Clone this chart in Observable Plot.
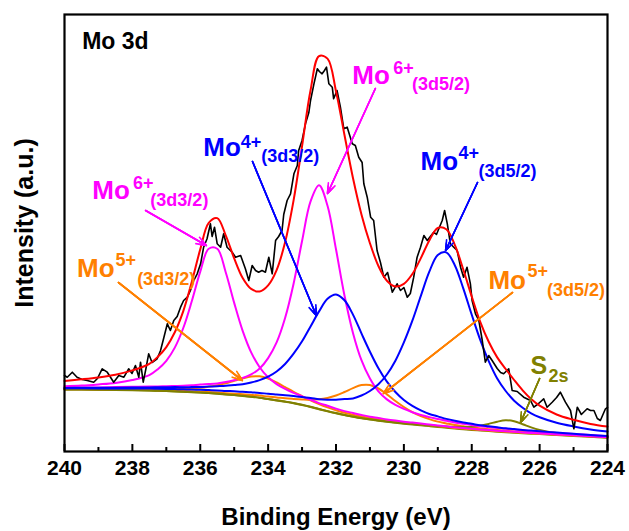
<!DOCTYPE html>
<html><head><meta charset="utf-8">
<script src="https://cdn.jsdelivr.net/npm/d3@7"></script>
<script src="https://cdn.jsdelivr.net/npm/@observablehq/plot@0.6"></script>
<style>
html,body{margin:0;padding:0;background:#fff;}
#chart svg{display:block;}
</style>
</head><body><div id="chart"></div>
<script>
// ---- Fit grid (binding energy, eV) ----
const energy = [240, 239.5, 239, 238.5, 238, 237.5, 237.25, 237, 236.75, 236.5, 236.25, 236, 235.75, 235.5, 235.25, 235, 234.75, 234.5, 234.25, 234, 233.75, 233.5, 233.25, 233, 232.75, 232.5, 232.25, 232, 231.75, 231.5, 231.25, 231, 230.75, 230.5, 230.25, 230, 229.75, 229.5, 229.25, 229, 228.75, 228.5, 228.25, 228, 227.75, 227.5, 227.25, 227, 226.75, 226.5, 226.25, 226, 225.5, 225, 224.5, 224];

// Shirley background (a.u.)
const background = [62, 61.9, 61.7, 61.5, 61.3, 60.9, 60.7, 60.4, 60.1, 59.7, 59.3, 58.9, 58.4, 57.8, 57.1, 56.4, 55.6, 54.7, 53.7, 52.4, 51.1, 49.7, 48.2, 46.5, 44.5, 42.3, 40.2, 38.2, 36.4, 34.8, 33.3, 32, 30.8, 29.7, 28.7, 27.8, 27, 26.2, 25.4, 24.6, 23.8, 23, 22.3, 21.6, 21, 20.4, 19.8, 19.3, 18.8, 18.3, 17.8, 17.4, 16.5, 15.6, 14.7, 13.8];

// Fitted components, height above background (a.u.)
const mo6_3d32 = [3.3, 4.0, 5.4, 7.1, 10.2, 15.5, 21.6, 30.3, 43.8, 63.8, 90.9, 121, 144.3, 144.9, 122.2, 92.2, 65, 44.4, 30.6, 21.8, 16.3, 12.9, 10.4, 8.6, 7.3, 6.1, 5.5, 4.7, 4.0, 3.7, 3.3, 2.8, 2.7, 2.4, 2.2, 2.0, 1.9, 1.7, 1.6, 1.5, 1.35, 1.2, 1.15, 1.1, 1.05, 1.0, 0.95, 0.9, 0.85, 0.8, 0.75, 0.7, 0.6, 0.6, 0.5, 0.5];
const mo6_3d52 = [1.7, 2.1, 2.4, 2.9, 3.4, 4.0, 4.3, 4.9, 5.4, 6.0, 6.9, 8.0, 9.0, 10.3, 12.3, 14.8, 17.9, 22.4, 29.3, 41, 58, 83.8, 119.6, 164, 205.6, 224, 205.6, 164, 119.6, 83.8, 58, 41, 29.3, 22.4, 17.9, 14.8, 12.3, 10.3, 9.0, 8.0, 6.9, 6.0, 5.4, 4.9, 4.3, 4.0, 3.7, 3.4, 3.1, 2.9, 2.7, 2.4, 2.1, 1.9, 1.7, 1.5];
const mo4_3d32 = [1.5, 1.8, 2.0, 2.3, 2.7, 3.2, 3.5, 3.8, 4.3, 4.6, 5.1, 5.6, 6.5, 7.5, 8.6, 10.1, 11.7, 14.3, 17.7, 22.4, 28.9, 37.8, 49.6, 63.7, 80.6, 97.8, 112.5, 118.9, 114.8, 102.1, 84.8, 67.8, 52.5, 40.1, 30.8, 23.7, 18.6, 14.9, 12.1, 10.5, 8.8, 7.7, 6.8, 6.1, 5.2, 4.8, 4.4, 3.9, 3.6, 3.2, 3.1, 2.9, 2.4, 2.1, 1.8, 1.6];
const mo4_3d52 = [1.2, 1.3, 1.4, 1.6, 1.8, 2.0, 2.1, 2.2, 2.3, 2.5, 2.6, 2.8, 3.0, 3.3, 3.5, 3.8, 4.1, 4.5, 4.9, 5.3, 5.9, 6.6, 7.2, 7.9, 9.0, 10.0, 11.6, 13.5, 16.0, 18.3, 22.7, 28.5, 36.4, 47.3, 62.1, 81.3, 103.8, 129.5, 154.4, 172, 175.3, 163.3, 140.8, 115.1, 90.6, 70, 53.2, 41.2, 32, 25.5, 20.4, 16.9, 12.3, 9.5, 7.4, 6.2];
const mo5_3d32 = [0.5, 0.6, 0.7, 0.9, 1.1, 1.4, 1.7, 2.0, 2.4, 2.9, 3.7, 4.8, 6.4, 8.4, 11.1, 14.3, 17.5, 20.3, 21.5, 20.6, 18, 14.7, 11.5, 8.9, 6.7, 5.1, 3.9, 3.0, 2.4, 2.0, 1.7, 1.5, 1.3, 1.2, 1.1, 1.0, 0.95, 0.9, 0.8, 0.7, 0.65, 0.6, 0.58, 0.55, 0.52, 0.5, 0.48, 0.45, 0.43, 0.4, 0.4, 0.4, 0.35, 0.3, 0.3, 0.3];
const mo5_3d52 = [0.3, 0.35, 0.4, 0.4, 0.5, 0.6, 0.65, 0.7, 0.75, 0.8, 0.85, 0.9, 1.0, 1.1, 1.25, 1.4, 1.6, 1.9, 2.2, 2.5, 3.0, 3.5, 4.4, 5.6, 7.3, 9.9, 13.4, 17.8, 23.1, 28.6, 33.1, 34.5, 32.2, 27.4, 21.8, 16.7, 12.4, 9.3, 7.0, 5.3, 4.3, 3.4, 2.9, 2.4, 2.1, 1.8, 1.6, 1.4, 1.3, 1.1, 1.0, 0.9, 0.8, 0.7, 0.6, 0.5];
const s2s = [0.1, 0.1, 0.1, 0.1, 0.1, 0.1, 0.1, 0.1, 0.1, 0.1, 0.1, 0.1, 0.1, 0.1, 0.1, 0.1, 0.1, 0.1, 0.1, 0.1, 0.2, 0.2, 0.2, 0.2, 0.2, 0.2, 0.2, 0.2, 0.2, 0.2, 0.2, 0.2, 0.3, 0.3, 0.35, 0.4, 0.5, 0.6, 0.75, 0.9, 1.1, 1.5, 2.1, 3.2, 4.8, 7.2, 10, 11.9, 11.4, 9.0, 6.3, 4.2, 1.9, 1.0, 0.6, 0.5];

// Envelope (cumulative fit, a.u.)
const envelope = [70.6, 72.2, 74.1, 76.8, 81.1, 87.7, 94.7, 104.4, 119.2, 140.4, 169.5, 202.1, 228.7, 233.4, 216.2, 193.1, 173.5, 162.6, 160.0, 166.1, 181.4, 209.2, 251.1, 305.4, 361.2, 395.4, 392.9, 360.3, 316.5, 273.5, 237.1, 208.3, 185.5, 170.8, 165.0, 167.7, 177.5, 193.4, 211.1, 223.5, 222.2, 206.7, 182.0, 155.0, 129.6, 109.7, 94.1, 82.5, 71.5, 61.2, 52.5, 45.8, 37.0, 31.7, 27.6, 24.9];

// Measured spectrum
const rawEnergy = [240.00, 239.92, 239.77, 239.63, 239.48, 239.33, 239.14, 239.03, 238.89, 238.74, 238.64, 238.55, 238.40, 238.25, 238.11, 238.01, 237.91, 237.81, 237.76, 237.68, 237.60, 237.52, 237.42, 237.27, 237.17, 237.07, 236.97, 236.88, 236.78, 236.68, 236.58, 236.49, 236.38, 236.29, 236.19, 236.09, 235.99, 235.90, 235.80, 235.70, 235.65, 235.58, 235.50, 235.40, 235.31, 235.21, 235.06, 234.96, 234.81, 234.67, 234.57, 234.47, 234.37, 234.28, 234.18, 234.08, 233.98, 233.88, 233.78, 233.69, 233.59, 233.54, 233.44, 233.34, 233.24, 233.14, 233.10, 233.00, 232.90, 232.80, 232.75, 232.65, 232.55, 232.49, 232.41, 232.34, 232.28, 232.21, 232.11, 232.07, 231.97, 231.87, 231.77, 231.67, 231.52, 231.43, 231.33, 231.23, 231.18, 231.08, 230.98, 230.89, 230.79, 230.69, 230.59, 230.48, 230.34, 230.20, 230.10, 230.00, 229.90, 229.81, 229.71, 229.61, 229.51, 229.41, 229.31, 229.22, 229.12, 229.04, 228.97, 228.87, 228.80, 228.72, 228.63, 228.53, 228.43, 228.33, 228.24, 228.14, 228.04, 227.99, 227.89, 227.79, 227.69, 227.60, 227.50, 227.40, 227.25, 227.15, 227.06, 226.91, 226.81, 226.66, 226.47, 226.27, 226.17, 226.03, 225.88, 225.78, 225.63, 225.50, 225.39, 225.24, 225.09, 224.99, 224.89, 224.77, 224.60, 224.50, 224.40, 224.30, 224.21, 224.06, 224.00];
const rawIntensity = [76, 74.3, 79.3, 74.3, 72, 71, 69.3, 73, 82.7, 79.3, 74, 69.3, 76, 74.3, 82.7, 78, 86, 74.3, 89.3, 69.3, 83, 97.7, 89, 92.7, 101, 114.3, 127.7, 121, 131, 135, 144.3, 151, 154.3, 161, 171, 177.7, 187.7, 204.3, 212.7, 227.7, 215, 224.3, 207.7, 204.3, 217.7, 204.3, 199.3, 194.3, 196, 182.7, 171, 186, 181, 179.3, 181, 179.3, 194.3, 177.7, 211, 215, 221, 237, 251, 257.7, 277.7, 286, 301, 311, 327.7, 339, 351, 367.7, 382.7, 380, 377.7, 381, 384.3, 367.7, 364.3, 352.7, 361, 344.3, 322.7, 324.3, 307.7, 306, 294.3, 289, 267.7, 254.3, 234.3, 231, 201, 189, 174.3, 179, 159.3, 167.7, 161, 164, 154.3, 158, 174.3, 194.3, 204.3, 216, 211, 215, 219.3, 217, 222.7, 231, 241, 227.7, 207.7, 204.3, 201, 184.3, 174.3, 184.3, 167.7, 151, 137.7, 131, 111, 89.3, 96, 91, 83, 79, 77.7, 82.7, 61, 60, 54.3, 51, 44.3, 48, 52.7, 44.3, 49.3, 54, 59.3, 49.3, 41, 22.7, 44.3, 37, 42.7, 41, 41, 33, 31, 42.7, 44];

// Axis ticks
const majorTicks = [240, 238, 236, 234, 232, 230, 228, 226, 224];
const minorTicks = [239, 237, 235, 233, 231, 229, 227, 225];

// ---- Build ----
const font = "'Liberation Sans', Arial, Helvetica, sans-serif";
const MAG = "#ff00ff", BLUE = "#0000ff", ORANGE = "#ff8000", OLIVE = "#808000", RED = "#ff0000";

const bgData = energy.map((e, i) => ({e, v: background[i]}));
const comp = h => energy.map((e, i) => ({e, v: background[i] + h[i]}));
const envData = energy.map((e, i) => ({e, v: envelope[i]}));
const rawData = rawEnergy.map((e, i) => ({e, v: rawIntensity[i]}));

const fitLine = (data, color) => Plot.line(data, {x: "e", y: "v", stroke: color, strokeWidth: 2, curve: "catmull-rom"});

function label(txt, e, v, color, size) {
  return Plot.text([txt], {x: [e], y: [v], text: d => d, fill: color, fontSize: size, fontWeight: "bold",
    fontFamily: font, textAnchor: "start", lineAnchor: "bottom"});
}
function arrow(e1, v1, e2, v2, color) {
  return [10, 7, 4].map(hl => Plot.arrow([0], {x1: [e1], y1: [v1], x2: [e2], y2: [v2], stroke: color,
    strokeWidth: 1.6, headLength: hl, headAngle: 40}));
}

const chart = Plot.plot({
  width: 629, height: 531,
  marginLeft: 64, marginRight: 22, marginTop: 14, marginBottom: 80,
  style: {fontFamily: font, background: "#fff", color: "#000"},
  x: {domain: [240, 224]},
  y: {domain: [0, 437], axis: null},
  marks: [
    Plot.line(bgData, {x: "e", y: "v", stroke: OLIVE, strokeWidth: 2, curve: "catmull-rom"}),
    fitLine(comp(mo5_3d32), ORANGE),
    fitLine(comp(mo5_3d52), ORANGE),
    fitLine(comp(s2s), OLIVE),
    fitLine(comp(mo6_3d32), MAG),
    fitLine(comp(mo6_3d52), MAG),
    fitLine(comp(mo4_3d32), BLUE),
    fitLine(comp(mo4_3d52), BLUE),
    Plot.line(rawData, {x: "e", y: "v", stroke: "#000", strokeWidth: 1.6}),
    fitLine(envData, RED),
    // arrows
    ...arrow(237.61, 241, 235.82, 206, MAG),
    ...arrow(234.46, 290, 232.58, 136, BLUE),
    ...arrow(230.84, 363, 232.25, 258, MAG),
    ...arrow(227.83, 269, 228.77, 201, BLUE),
    ...arrow(238.41, 169, 234.76, 71, ORANGE),
    ...arrow(226.80, 159, 230.60, 58, ORANGE),
    ...arrow(226.00, 73, 226.56, 29, OLIVE),
    // labels
    label("Mo 3d", 239.48, 403, "#000", 23),
    label("Mo", 239.18, 253, MAG, 26), label("6+", 237.98, 263, MAG, 18), label("(3d3/2)", 237.47, 246, MAG, 18),
    label("Mo", 235.91, 295.5, BLUE, 26), label("4+", 234.81, 304, BLUE, 18), label("(3d3/2)", 234.20, 290, BLUE, 18),
    label("Mo", 231.52, 368, MAG, 26), label("6+", 230.31, 378, MAG, 18), label("(3d5/2)", 229.76, 362, MAG, 18),
    label("Mo", 229.51, 282, BLUE, 26), label("4+", 228.39, 293, BLUE, 18), label("(3d5/2)", 227.80, 275, BLUE, 18),
    label("Mo", 239.63, 175, ORANGE, 26), label("5+", 238.50, 186, ORANGE, 18), label("(3d3/2)", 237.86, 167, ORANGE, 18),
    label("Mo", 227.51, 163, ORANGE, 26), label("5+", 226.36, 175, ORANGE, 18), label("(3d5/2)", 225.78, 156, ORANGE, 18),
    label("S", 226.27, 78, OLIVE, 25), label("2s", 225.74, 70, OLIVE, 18),
    // axes & frame
    Plot.tickX(majorTicks, {x: d => d, insetTop: 430, stroke: "#000", strokeWidth: 2}),
    Plot.tickX(minorTicks, {x: d => d, insetTop: 433, stroke: "#000", strokeWidth: 2}),
    Plot.axisX({ticks: majorTicks, tickSize: 0, tickPadding: 9, tickFormat: d => String(d), label: null,
      fontSize: 21, fontWeight: "bold", fontFamily: font, fill: "#000"}),
    Plot.frame({stroke: "#000", strokeWidth: 2.2}),
    Plot.text(["Binding Energy (eV)"], {frameAnchor: "bottom", dy: 73, lineAnchor: "bottom", textAnchor: "middle",
      fontSize: 24, fontWeight: "bold", fontFamily: font, fill: "#000"}),
    Plot.text(["Intensity (a.u.)"], {frameAnchor: "left", rotate: -90, dx: -32, dy: -10, lineAnchor: "bottom",
      textAnchor: "middle", fontSize: 25, fontWeight: "bold", fontFamily: font, fill: "#000"})
  ]
});
document.getElementById("chart").appendChild(chart);
</script>
</body></html>
